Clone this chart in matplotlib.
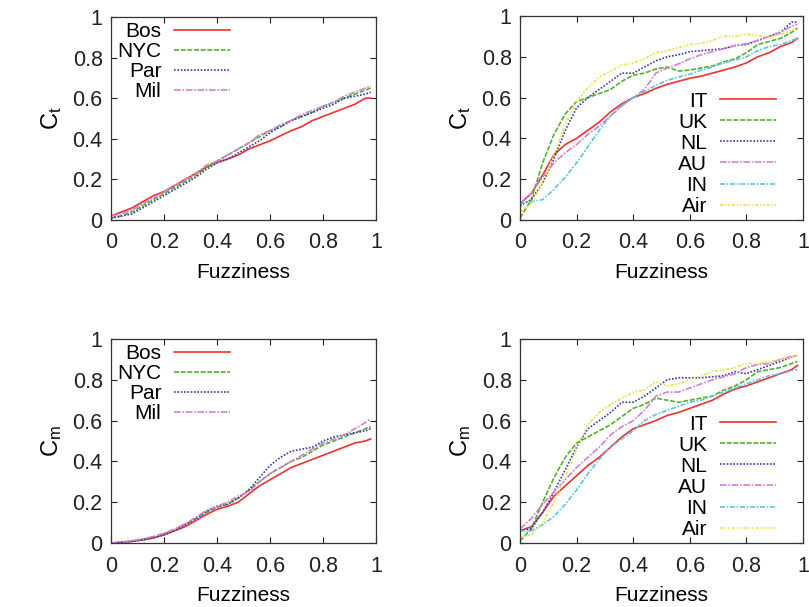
import matplotlib
matplotlib.use("Agg")
import matplotlib.pyplot as plt

plt.rcParams['font.family'] = ['Liberation Sans', 'DejaVu Sans']

# eixo x comum (fuzziness)
fuzz = [0.00, 0.04, 0.08, 0.12, 0.16, 0.20, 0.24, 0.28, 0.32, 0.36, 0.40, 0.44, 0.48,
        0.52, 0.56, 0.60, 0.64, 0.68, 0.72, 0.76, 0.80, 0.84, 0.88, 0.92, 0.96, 0.98]

cities = ["Bos", "NYC", "Par", "Mil"]
countries = ["IT", "UK", "NL", "AU", "IN", "Air"]
ticks = [0, 0.2, 0.4, 0.6, 0.8, 1]
tick_labels = ['0', '0.2', '0.4', '0.6', '0.8', '1']

# Ct - cidades
ct_bos = [0.02, 0.04, 0.06, 0.09, 0.12, 0.14, 0.17, 0.20, 0.23, 0.26, 0.285, 0.30, 0.32,
          0.35, 0.37, 0.39, 0.415, 0.44, 0.46, 0.49, 0.51, 0.53, 0.55, 0.57, 0.60, 0.60]
ct_nyc = [0.01, 0.02, 0.04, 0.07, 0.10, 0.13, 0.16, 0.19, 0.22, 0.26, 0.29, 0.32, 0.35,
          0.38, 0.41, 0.44, 0.46, 0.49, 0.51, 0.53, 0.56, 0.58, 0.60, 0.62, 0.64, 0.65]
ct_par = [0.01, 0.02, 0.03, 0.06, 0.09, 0.12, 0.15, 0.18, 0.21, 0.25, 0.28, 0.30, 0.33,
          0.36, 0.39, 0.43, 0.46, 0.49, 0.51, 0.53, 0.55, 0.57, 0.60, 0.61, 0.62, 0.63]
ct_mil = [0.02, 0.03, 0.05, 0.08, 0.11, 0.14, 0.17, 0.20, 0.23, 0.27, 0.29, 0.32, 0.35,
          0.38, 0.42, 0.44, 0.47, 0.49, 0.52, 0.54, 0.56, 0.58, 0.61, 0.63, 0.65, 0.66]

# Cm - cidades
cm_bos = [0.00, 0.003, 0.008, 0.015, 0.025, 0.04, 0.06, 0.08, 0.11, 0.14, 0.165, 0.18, 0.20,
          0.24, 0.28, 0.31, 0.34, 0.37, 0.39, 0.41, 0.43, 0.45, 0.47, 0.49, 0.50, 0.51]
cm_nyc = [0.00, 0.004, 0.01, 0.018, 0.03, 0.045, 0.065, 0.09, 0.12, 0.15, 0.175, 0.19, 0.22,
          0.26, 0.30, 0.34, 0.37, 0.40, 0.42, 0.45, 0.48, 0.50, 0.52, 0.54, 0.56, 0.57]
cm_par = [0.00, 0.003, 0.008, 0.015, 0.025, 0.04, 0.06, 0.09, 0.12, 0.155, 0.18, 0.19, 0.22,
          0.26, 0.32, 0.38, 0.42, 0.45, 0.46, 0.47, 0.50, 0.52, 0.53, 0.54, 0.55, 0.56]
cm_mil = [0.00, 0.005, 0.012, 0.02, 0.032, 0.048, 0.068, 0.095, 0.125, 0.16, 0.18, 0.20, 0.23,
          0.25, 0.30, 0.34, 0.37, 0.40, 0.43, 0.46, 0.49, 0.51, 0.53, 0.56, 0.59, 0.61]

# Ct - paises
ct_it = [0.08, 0.13, 0.22, 0.32, 0.37, 0.40, 0.44, 0.48, 0.53, 0.57, 0.60, 0.62, 0.645,
         0.665, 0.68, 0.695, 0.705, 0.72, 0.735, 0.75, 0.77, 0.80, 0.82, 0.85, 0.87, 0.89]
ct_uk = [0.01, 0.10, 0.28, 0.42, 0.52, 0.58, 0.60, 0.62, 0.64, 0.68, 0.71, 0.72, 0.74,
         0.75, 0.73, 0.735, 0.745, 0.755, 0.775, 0.79, 0.82, 0.86, 0.875, 0.89, 0.92, 0.94]
ct_nl = [0.07, 0.10, 0.18, 0.30, 0.44, 0.55, 0.60, 0.64, 0.68, 0.72, 0.72, 0.75, 0.78,
         0.80, 0.81, 0.825, 0.83, 0.835, 0.84, 0.855, 0.86, 0.88, 0.90, 0.92, 0.97, 0.97]
ct_au = [0.08, 0.13, 0.21, 0.28, 0.33, 0.37, 0.42, 0.46, 0.51, 0.56, 0.60, 0.64, 0.72,
         0.745, 0.765, 0.79, 0.81, 0.825, 0.84, 0.855, 0.865, 0.88, 0.90, 0.92, 0.95, 0.96]
ct_in = [0.08, 0.09, 0.10, 0.15, 0.21, 0.28, 0.36, 0.44, 0.51, 0.56, 0.60, 0.63, 0.66,
         0.685, 0.70, 0.715, 0.735, 0.75, 0.77, 0.785, 0.80, 0.83, 0.85, 0.86, 0.88, 0.89]
ct_air = [0.04, 0.08, 0.18, 0.32, 0.47, 0.58, 0.65, 0.70, 0.73, 0.76, 0.77, 0.79, 0.82,
          0.83, 0.845, 0.86, 0.865, 0.88, 0.90, 0.90, 0.91, 0.905, 0.895, 0.91, 0.93, 0.93]

# Cm - paises
cm_it = [0.06, 0.08, 0.15, 0.23, 0.28, 0.33, 0.38, 0.42, 0.47, 0.52, 0.56, 0.58, 0.60,
         0.625, 0.64, 0.66, 0.68, 0.70, 0.73, 0.755, 0.77, 0.79, 0.81, 0.83, 0.85, 0.87]
cm_uk = [0.01, 0.07, 0.20, 0.32, 0.42, 0.49, 0.52, 0.55, 0.58, 0.62, 0.66, 0.68, 0.71,
         0.70, 0.69, 0.70, 0.71, 0.72, 0.75, 0.77, 0.80, 0.84, 0.85, 0.86, 0.88, 0.89]
cm_nl = [0.06, 0.07, 0.15, 0.25, 0.36, 0.47, 0.56, 0.60, 0.64, 0.69, 0.69, 0.72, 0.76,
         0.80, 0.81, 0.81, 0.81, 0.815, 0.82, 0.84, 0.83, 0.85, 0.87, 0.89, 0.91, 0.92]
cm_au = [0.07, 0.12, 0.19, 0.25, 0.31, 0.37, 0.42, 0.47, 0.53, 0.57, 0.60, 0.65, 0.72,
         0.74, 0.74, 0.76, 0.78, 0.80, 0.815, 0.83, 0.86, 0.875, 0.88, 0.90, 0.915, 0.92]
cm_in = [0.06, 0.06, 0.09, 0.13, 0.19, 0.26, 0.34, 0.41, 0.47, 0.51, 0.55, 0.60, 0.63,
         0.65, 0.67, 0.69, 0.70, 0.72, 0.74, 0.76, 0.78, 0.80, 0.82, 0.83, 0.845, 0.85]
cm_air = [0.03, 0.04, 0.10, 0.20, 0.33, 0.46, 0.58, 0.64, 0.68, 0.71, 0.74, 0.75, 0.79,
          0.77, 0.78, 0.80, 0.82, 0.84, 0.85, 0.86, 0.88, 0.88, 0.89, 0.90, 0.91, 0.92]

# estilos tipo gnuplot
cores = ['#f03030', '#52b22e', '#3838b0', '#d47ed4', '#5cc6dc', '#eee04a']
tracos = ['-', (0, (3, 1)), (0, (1, 1)), (0, (4, 1, 1, 1)), (0, (3, 1, 1, 1)), (0, (2, 1, 1, 1, 1, 1))]

fig = plt.figure(figsize=(8.09, 6.07), dpi=100)
W, H = 809, 607


def eixo(px_left, px_top, px_w, px_h):
    return fig.add_axes([px_left / W, 1 - (px_top + px_h) / H, px_w / W, px_h / H])


def prepara(ax, ylabel):
    ax.set_xlim(0, 1)
    ax.set_ylim(0, 1)
    ax.set_xticks(ticks)
    ax.set_xticklabels(tick_labels)
    ax.set_yticks(ticks)
    ax.set_yticklabels(tick_labels)
    ax.tick_params(direction='in', top=True, right=True, length=4.5, width=0.8,
                   labelsize=15.5, colors='#222222')
    ax.tick_params(axis='x', pad=9)
    ax.tick_params(axis='y', pad=6)
    for s in ax.spines.values():
        s.set_color('#333333')
        s.set_linewidth(0.9)
    ax.set_xlabel('Fuzziness', fontsize=15, labelpad=7)
    ax.set_ylabel(ylabel, fontsize=17, labelpad=6)


paineis = [
    (eixo(111, 17, 265, 203), r'$\mathregular{C_t}$', cities, [ct_bos, ct_nyc, ct_par, ct_mil]),
    (eixo(520, 16, 283, 204), r'$\mathregular{C_t}$', countries, [ct_it, ct_uk, ct_nl, ct_au, ct_in, ct_air]),
    (eixo(111, 339, 265, 204), r'$\mathregular{C_m}$', cities, [cm_bos, cm_nyc, cm_par, cm_mil]),
    (eixo(520, 339, 283, 204), r'$\mathregular{C_m}$', countries, [cm_it, cm_uk, cm_nl, cm_au, cm_in, cm_air]),
]

for i, (ax, ylab, nomes, series) in enumerate(paineis):
    prepara(ax, ylab)
    for k, (nome, ys) in enumerate(zip(nomes, series)):
        ax.plot(fuzz, ys, color=cores[k], linestyle=tracos[k], linewidth=1.2, label=nome)
    if len(nomes) == 4:
        ax.legend(loc='upper right', bbox_to_anchor=(0.45, 0.975), frameon=False,
                  markerfirst=False, fontsize=15, handlelength=2.7, handletextpad=0.6,
                  labelspacing=0.05, borderpad=0, borderaxespad=0)
    else:
        ax.legend(loc='lower right', bbox_to_anchor=(0.905, 0.02), frameon=False,
                  markerfirst=False, fontsize=15, handlelength=2.7, handletextpad=0.6,
                  labelspacing=0.1, borderpad=0, borderaxespad=0)

plt.savefig("out.png", dpi=100)
